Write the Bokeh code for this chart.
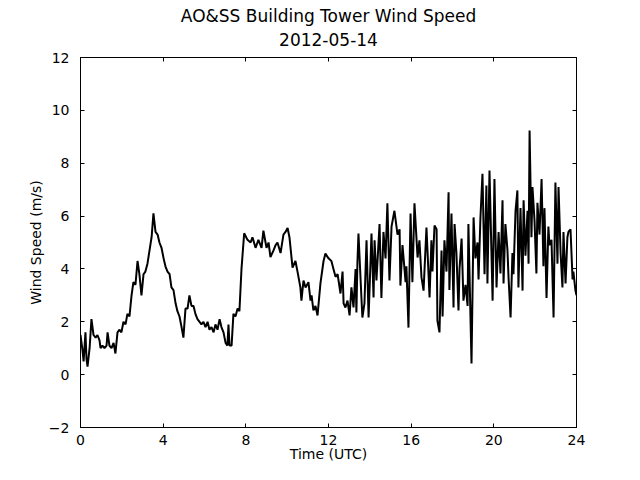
from bokeh.plotting import figure
from bokeh.models import LinearAxis, SingleIntervalTicker, Title, Range1d
from bokeh.embed import file_html
from bokeh.resources import INLINE

title_main = "AO&SS Building Tower Wind Speed"
title_date = "2012-05-14"
x_label = "Time (UTC)"
y_label = "Wind Speed (m/s)"

hours = [
    0.00, 0.10, 0.15, 0.24, 0.29, 0.34, 0.44, 0.53, 0.63, 0.73, 0.82, 0.92, 0.97, 1.06, 1.16, 1.26,
    1.31, 1.40, 1.50, 1.60, 1.69, 1.79, 1.89, 1.98, 2.08, 2.18, 2.27, 2.37, 2.47, 2.56, 2.66, 2.76,
    2.85, 2.95, 3.05, 3.14, 3.24, 3.34, 3.44, 3.53, 3.63, 3.73, 3.82, 3.92, 4.02, 4.11, 4.21, 4.31,
    4.40, 4.50, 4.60, 4.69, 4.79, 4.89, 4.98, 5.08, 5.18, 5.27, 5.37, 5.47, 5.56, 5.66, 5.76, 5.85,
    5.95, 6.05, 6.15, 6.24, 6.34, 6.44, 6.53, 6.63, 6.73, 6.82, 6.92, 7.02, 7.11, 7.16, 7.21, 7.31,
    7.40, 7.50, 7.60, 7.69, 7.79, 7.92, 8.08, 8.23, 8.32, 8.47, 8.61, 8.76, 8.85, 9.00, 9.10, 9.19,
    9.34, 9.44, 9.53, 9.68, 9.82, 9.92, 10.02, 10.11, 10.26, 10.40, 10.50, 10.64, 10.69, 10.79,
    10.89, 11.03, 11.13, 11.18, 11.27, 11.37, 11.47, 11.61, 11.76, 11.85, 12.00, 12.14, 12.24,
    12.34, 12.44, 12.58, 12.68, 12.73, 12.82, 12.92, 13.02,
    13.11, 13.21, 13.31, 13.35, 13.40, 13.45, 13.60, 13.64, 13.74, 13.84, 13.94, 14.08, 14.18,
    14.23, 14.32, 14.47, 14.56, 14.66, 14.76, 14.85, 14.95, 15.05, 15.19, 15.34, 15.44, 15.48,
    15.58, 15.73, 15.77, 15.87, 15.97, 16.06, 16.16, 16.31, 16.40, 16.50, 16.60, 16.74, 16.84,
    16.89, 16.98, 17.03, 17.13, 17.23, 17.27, 17.37, 17.47, 17.52, 17.61, 17.71, 17.81, 17.85,
    17.95, 18.05, 18.10, 18.19, 18.29, 18.34, 18.44, 18.53, 18.63, 18.73, 18.77, 18.92, 19.02,
    19.11, 19.21, 19.26, 19.35, 19.45, 19.55, 19.64, 19.69, 19.79, 19.94, 20.03, 20.13, 20.23,
    20.32, 20.42, 20.47, 20.56, 20.66, 20.71, 20.81, 20.90, 20.95, 21.05, 21.14, 21.19, 21.29,
    21.39, 21.44, 21.53, 21.63, 21.68, 21.73, 21.82, 21.87, 21.97, 22.06, 22.11, 22.21, 22.31,
    22.40, 22.45, 22.55, 22.64, 22.69, 22.79, 22.89, 22.98, 23.08, 23.13, 23.23, 23.32, 23.37,
    23.47, 23.56, 23.61, 23.71, 23.81, 23.85, 23.95, 24.00,
]

speed = [
    1.5, 0.9, 0.5, 1.6, 0.6, 0.3, 1.0, 2.1, 1.5, 1.4, 1.5, 1.3, 1.0, 1.1, 1.0, 1.1,
    1.6, 1.1, 1.0, 1.2, 0.8, 1.6, 1.7, 1.6, 2.0, 1.9, 2.3, 2.2, 3.0, 3.5, 3.4, 4.3,
    3.8, 3.0, 3.8, 3.9, 4.2, 4.7, 5.2, 6.1, 5.4, 5.3, 5.0, 4.8, 4.4, 4.1, 3.9, 3.8,
    3.3, 3.2, 2.7, 2.4, 2.2, 1.8, 1.4, 2.5, 2.5, 3.0, 2.6, 2.6, 2.3, 2.1, 2.0, 1.9,
    2.0, 1.8, 2.0, 1.7, 1.8, 1.6, 1.9, 1.7, 2.1, 1.8, 1.6, 1.2, 1.1, 1.9, 1.1, 1.1,
    2.3, 2.2, 2.5, 2.4, 4.0, 5.35, 5.1, 5.0, 5.2, 4.8, 5.1, 4.8, 5.45, 4.8, 5.0, 4.45,
    4.7, 4.9, 5.0, 4.6, 5.3, 5.4, 5.55, 5.2, 4.05, 4.3, 3.9, 3.3, 2.8, 3.56,
    3.3, 3.5, 2.8, 3.0, 2.43, 2.6, 2.24, 3.45, 4.3, 4.58, 4.4, 4.3, 4.0,
    3.7, 3.8, 3.07, 3.9, 2.7, 2.54, 2.8, 2.24,
    3.3, 2.54, 4.0, 2.35, 4.24, 5.34, 2.8, 2.16, 2.7, 5.08, 2.16, 5.34, 2.92,
    5.08, 3.56, 5.7, 2.9, 5.4, 4.4, 6.48, 3.56, 5.6, 6.2, 5.3, 5.5, 3.37,
    4.9, 3.5, 4.1, 1.78, 6.1, 3.5, 6.48, 4.43, 5.08, 3.68, 3.18, 5.57, 3.8,
    2.92, 5.08, 3.9, 5.64, 5.5, 2.05, 1.6, 4.7, 2.2, 5.08, 3.9, 6.9, 3.2,
    6.1, 2.54, 5.7, 4.6, 2.43, 4.0, 5.15, 2.8, 3.4, 2.6, 5.7, 0.42, 5.95,
    4.4, 5.0, 3.6, 5.9, 7.6, 3.8, 7.16, 3.45, 7.72, 2.8, 7.4, 3.3, 5.4,
    3.83, 6.6, 3.45, 5.7, 4.7, 3.7, 2.16, 4.6, 3.8, 6.2, 6.97, 3.3, 6.3,
    3.18, 6.6, 4.5, 6.2, 4.2, 9.24, 5.2, 7.1, 5.8, 3.83, 6.5, 5.3, 7.4,
    4.1, 6.3, 2.9, 5.6, 4.9, 5.1, 2.16, 7.27, 4.2, 7.1, 4.6, 3.3, 5.4,
    3.45, 5.2, 5.4, 5.5, 3.6, 3.9, 3.18, 3.0,
]

x_ticks_interval = 4
y_ticks_interval = 2

FONT = "DejaVu Sans"

p = figure(
    width=624, height=464,
    x_range=Range1d(0, 24), y_range=Range1d(-2, 12),
    output_backend="svg", toolbar_location=None,
    min_border_left=80, min_border_right=48, min_border_top=57, min_border_bottom=37,
)
p.title = None
p.background_fill_color = "white"
p.border_fill_color = "white"
p.outline_line_color = "black"
p.outline_line_width = 1
p.outline_line_alpha = 1.0
p.xgrid.visible = False
p.ygrid.visible = False

p.line(hours, speed, line_color="black", line_width=2)

def style_axis(ax, ticker, show_labels):
    ax.ticker = ticker
    ax.major_tick_in = 4
    ax.major_tick_out = 0
    ax.minor_tick_line_color = None
    ax.axis_line_color = "black"
    ax.major_tick_line_color = "black"
    ax.major_label_text_font = FONT
    if show_labels:
        ax.major_label_text_color = "black"
        ax.major_label_text_font_size = "14px"
        ax.major_label_standoff = 3
    else:
        ax.major_label_text_color = None
        ax.major_label_text_font_size = "1px"
        ax.major_label_standoff = 0

xa = p.xaxis[0]
ya = p.yaxis[0]
style_axis(xa, SingleIntervalTicker(interval=x_ticks_interval), True)
style_axis(ya, SingleIntervalTicker(interval=y_ticks_interval), True)
ya.major_label_standoff = 7
ya.major_label_overrides = {-2: "\u22122"}
xa.axis_label = x_label
ya.axis_label = y_label
for ax in (xa, ya):
    ax.axis_label_text_font = FONT
    ax.axis_label_text_font_size = "14px"
    ax.axis_label_text_font_style = "normal"
    ax.axis_label_text_color = "black"
xa.axis_label_standoff = -2
ya.axis_label_standoff = 2

top_ax = LinearAxis()
style_axis(top_ax, SingleIntervalTicker(interval=x_ticks_interval), False)
p.add_layout(top_ax, "above")
right_ax = LinearAxis()
style_axis(right_ax, SingleIntervalTicker(interval=y_ticks_interval), False)
p.add_layout(right_ax, "right")

t_date = Title(text=title_date, align="center", text_font=FONT, text_font_size="17px",
               text_font_style="normal", text_color="black", standoff=15)
p.add_layout(t_date, "above")
t_main = Title(text=title_main, align="center", text_font=FONT, text_font_size="17px",
               text_font_style="normal", text_color="black", standoff=-5)
p.add_layout(t_main, "above")

open("out.html", "w").write(file_html(p, INLINE))
